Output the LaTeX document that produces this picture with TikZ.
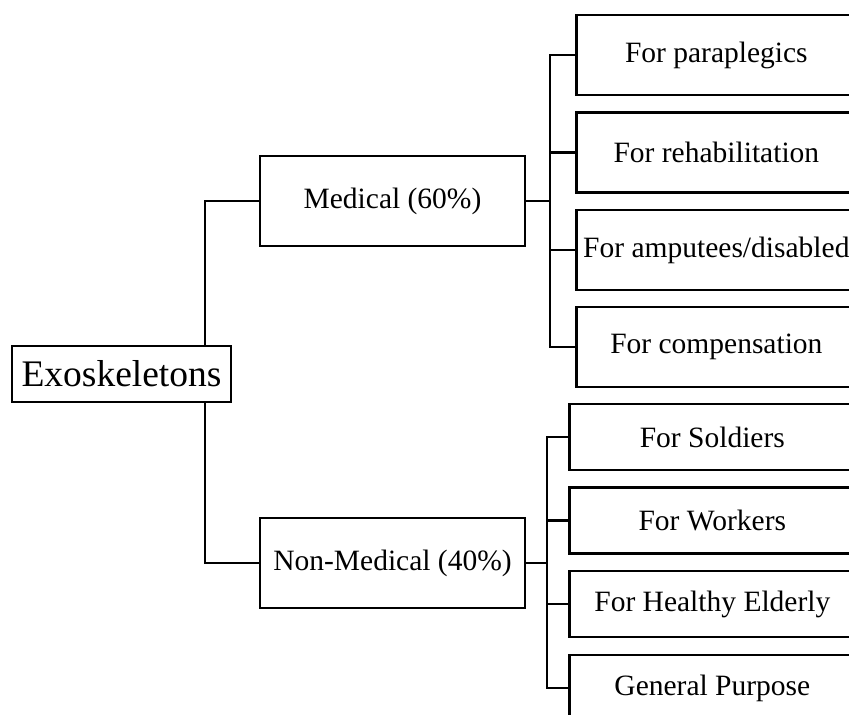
\documentclass[tikz,border=0pt]{standalone}
\usepackage{fontspec}
\setmainfont{Liberation Serif}
\begin{document}
\begin{tikzpicture}[
    x=1pt,
    y=-1pt,
    box/.style={
      draw=black,
      line width=2.7pt,
      inner sep=3pt,
      align=center,
      font=\fontsize{29.5}{34}\selectfont
    },
    rootbox/.style={
      box,
      minimum width=219pt,
      minimum height=56pt,
      font=\fontsize{37.5}{42}\selectfont
    },
    catbox/.style={
      box,
      minimum width=265pt,
      minimum height=90pt
    },
    medleaf/.style={
      box,
      anchor=west,
      minimum width=280pt,
      minimum height=80pt
    },
    nonmedleaf/.style={
      box,
      anchor=west,
      minimum width=286pt,
      minimum height=66pt
    },
    link/.style={
      line width=2.7pt
    }
  ]

    % Page frame (the right and bottom boxes run off the page)
    \useasboundingbox (0,0) rectangle (849,715);
    \clip (0,0) rectangle (849,715);

    % Root and the two categories
    \node[rootbox] (exo) at (121.5,374) {Exoskeletons};
    \node[catbox] (medical) at (392.5,201) {Medical (60\%)};
    \node[catbox] (nonmedical) at (392.5,563) {Non-Medical (40\%)};

    % Medical leaves
    \node[medleaf] (para) at (575,55) {For paraplegics};
    \node[medleaf] (rehab) at (575,152.5) {For rehabilitation};
    \node[medleaf] (amput) at (575,250) {For amputees/disabled};
    \node[medleaf] (comp) at (575,347) {For compensation};

    % Non-medical leaves
    \node[nonmedleaf] (soldiers) at (568,437) {For Soldiers};
    \node[nonmedleaf] (workers) at (568,520.5) {For Workers};
    \node[nonmedleaf] (elderly) at (568,604) {For Healthy Elderly};
    \node[nonmedleaf] (general) at (568,688) {General Purpose};

    % Bus points
    \coordinate (trunk) at (205,374);
    \coordinate (medbus) at (550,201);
    \coordinate (nonmedbus) at (547,563);

    % Connectors
    \draw[link] (trunk |- exo.north) |- (medical.west);
    \draw[link] (trunk |- exo.south) |- (nonmedical.west);

    \draw[link] (medical.east) -- (medbus);
    \foreach \leaf in {para,rehab,amput,comp} {
      \draw[link] (medbus) |- (\leaf.west);
    }

    \draw[link] (nonmedical.east) -- (nonmedbus);
    \foreach \leaf in {soldiers,workers,elderly,general} {
      \draw[link] (nonmedbus) |- (\leaf.west);
    }

  \end{tikzpicture}
\end{document}
